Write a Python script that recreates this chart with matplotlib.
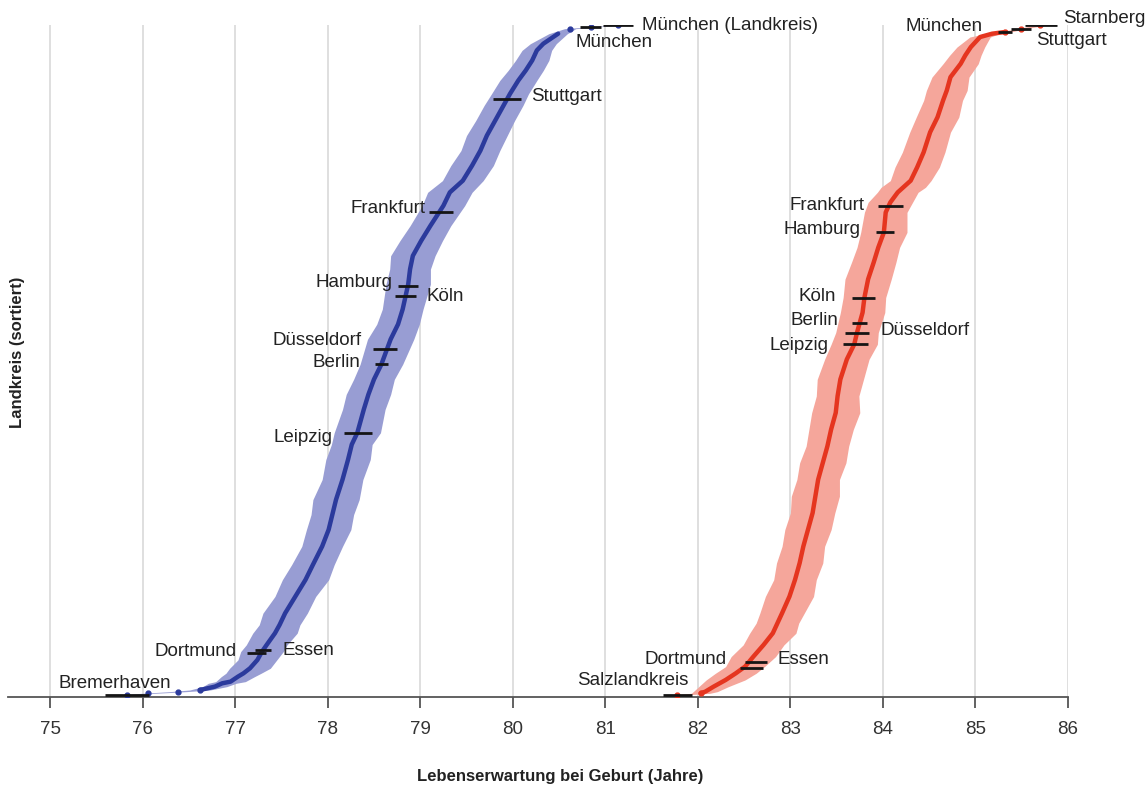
import numpy as np
import matplotlib.pyplot as plt

plt.rcParams['font.family'] = ['Liberation Sans', 'DejaVu Sans']

# Männer: Rang (sortiert) und Lebenserwartung mit Unsicherheit
men_rank = [1, 2, 3, 4, 6, 8, 9, 12, 14, 17, 22, 27, 31, 38, 43, 50, 60, 70, 79, 90,
            100, 109, 118, 130, 142, 151, 158, 172, 181, 190, 199, 214, 223, 232, 247,
            256, 264, 273, 282, 294, 302, 309, 318, 327, 336, 345, 354, 361, 369, 375,
            381, 387, 391, 394, 397, 400, 401, 402]
men_le = [75.83, 76.06, 76.38, 76.62, 76.78, 76.86, 76.95, 77.03, 77.09, 77.16, 77.24,
          77.29, 77.34, 77.43, 77.48, 77.54, 77.65, 77.76, 77.84, 77.94, 78.01, 78.05,
          78.09, 78.16, 78.22, 78.26, 78.32, 78.39, 78.44, 78.50, 78.58, 78.68, 78.76,
          78.81, 78.87, 78.89, 78.92, 79.01, 79.11, 79.25, 79.32, 79.46, 79.56, 79.65,
          79.72, 79.81, 79.90, 79.97, 80.06, 80.14, 80.21, 80.26, 80.33, 80.41, 80.49,
          80.62, 80.84, 81.14]
men_err = [0.08, 0.07, 0.09, 0.11, 0.13, 0.15, 0.16, 0.18, 0.19,
           0.22, 0.21, 0.23, 0.22, 0.24, 0.22, 0.24, 0.22, 0.25, 0.23, 0.22, 0.24, 0.23,
           0.25, 0.22, 0.24, 0.22, 0.25, 0.23, 0.24, 0.22, 0.23, 0.25, 0.23, 0.22, 0.24,
           0.22, 0.24, 0.23, 0.22, 0.23, 0.24, 0.22, 0.23, 0.21, 0.22, 0.21, 0.21, 0.20,
           0.20, 0.19, 0.18, 0.16, 0.14, 0.12, 0.10,
           0.06, 0.05, 0.05]

# Frauen
women_rank = [1, 2, 3, 6, 10, 14, 18, 24, 31, 38, 44, 50, 60, 70, 80, 90, 100, 110, 120,
              130, 140, 150, 160, 170, 180, 190, 202, 211, 218, 230, 239, 250, 260, 269,
              278, 290, 296, 302, 305, 309, 317, 326, 338, 347, 357, 363, 371, 379, 384,
              389, 392, 395, 397, 398, 400, 402]
women_le = [81.78, 82.03, 82.08, 82.17, 82.30, 82.41, 82.51, 82.60, 82.71, 82.81, 82.86,
            82.91, 82.99, 83.05, 83.10, 83.14, 83.19, 83.24, 83.27, 83.30, 83.35, 83.40,
            83.44, 83.49, 83.51, 83.54, 83.61, 83.69, 83.72, 83.78, 83.80, 83.84, 83.90,
            83.95, 84.01, 84.03, 84.08, 84.16, 84.22, 84.30, 84.37, 84.44, 84.51, 84.59,
            84.65, 84.69, 84.73, 84.84, 84.89, 84.95, 85.00, 85.05, 85.18, 85.32, 85.49,
            85.70]
women_err = [0.07, 0.10, 0.13, 0.16,
             0.21, 0.22, 0.21, 0.24, 0.22, 0.25, 0.23, 0.24, 0.26, 0.23, 0.25, 0.23, 0.25,
             0.24, 0.26, 0.23, 0.25, 0.23, 0.24, 0.26, 0.23, 0.25, 0.24, 0.25, 0.23, 0.24,
             0.23, 0.25, 0.24, 0.23, 0.25, 0.23, 0.24, 0.22, 0.24, 0.22, 0.24, 0.23, 0.22,
             0.23, 0.21, 0.22, 0.20, 0.19, 0.17, 0.15, 0.13, 0.11,
             0.08, 0.06, 0.05, 0.05]

# markierte Kreise
men_city = ['München (Landkreis)', 'München', 'Stuttgart', 'Frankfurt', 'Hamburg', 'Köln',
            'Düsseldorf', 'Berlin', 'Leipzig', 'Dortmund', 'Essen', 'Bremerhaven']
men_city_rank = [402, 401, 358, 290, 246, 240, 208, 199, 158, 26, 28, 1]
men_city_le = [81.14, 80.84, 79.94, 79.22, 78.87, 78.84, 78.62, 78.58, 78.33, 77.23, 77.30, 75.83]
men_city_err = [0.16, 0.11, 0.15, 0.13, 0.11, 0.11, 0.13, 0.07, 0.15, 0.10, 0.09, 0.24]

women_city = ['Starnberg', 'Stuttgart', 'München', 'Frankfurt', 'Hamburg', 'Köln', 'Berlin',
              'Düsseldorf', 'Leipzig', 'Dortmund', 'Essen', 'Salzlandkreis']
women_city_rank = [402, 400, 398, 294, 278, 239, 224, 218, 211, 17, 21, 1]
women_city_le = [85.71, 85.49, 85.32, 84.08, 84.02, 83.79, 83.75, 83.72, 83.70, 82.58, 82.63, 81.78]
women_city_err = [0.17, 0.11, 0.08, 0.135, 0.10, 0.125, 0.08, 0.125, 0.135, 0.125, 0.12, 0.16]

# Beschriftung: (Ausrichtung, dx, dy) in Pixeln
men_lab = [('left', 9, 0), ('left', -25, -15), ('left', 10, 2), ('right', -3, 4),
           ('right', -6, 3), ('left', 11, -1), ('right', -11, 9), ('right', -15, 2),
           ('right', -12, -5), ('right', -11, 2), ('left', 11, -1), ('center', -12, 11)]
women_lab = [('left', 6, 7), ('left', 5, -12), ('right', -15, 6), ('right', -13, 0),
             ('right', -15, 3), ('right', -16, 1), ('right', -14, 2), ('left', 12, 2),
             ('right', -14, -1), ('right', -13, 9), ('left', 10, 2), ('right', 26, 14)]


def draw_series(ax, rank, le, err, line_color, band_color, lo, hi):
    rank = np.array(rank)
    le = np.array(le)
    err = np.array(err)
    ax.fill_betweenx(rank, le - err, le + err, color=band_color, lw=0, zorder=2)
    core = (rank >= lo) & (rank <= hi)
    ax.plot(le[core], rank[core], color=line_color, lw=3.2, zorder=3,
            solid_capstyle='round', solid_joinstyle='round')
    tail = ~core | (rank == lo) | (rank == hi)
    ax.plot(le[tail], rank[tail], 'o', color=line_color, ms=3.5, zorder=3)


def draw_cities(ax, names, rank, le, err, layout):
    ax.errorbar(le, rank, xerr=err, fmt='none', ecolor='#151515', elinewidth=2,
                capsize=0, zorder=4)
    for n, r, v, e, (ha, dx, dy) in zip(names, rank, le, err, layout):
        x = v + e if ha == 'left' else (v - e if ha == 'right' else v)
        ax.annotate(n, (x, r), xytext=(dx, dy), textcoords='offset pixels',
                    ha=ha, va='center', fontsize=13.5, color='#222222', zorder=5)


fig = plt.figure(figsize=(11.48, 7.87), dpi=100)
ax = fig.add_axes([8 / 1148, 90 / 787, 1060 / 1148, 672 / 787])

draw_series(ax, men_rank, men_le, men_err, '#2b3a9c', '#989dd3', 4, 399)
draw_series(ax, women_rank, women_le, women_err, '#e5351f', '#f5a69b', 2, 398)
draw_cities(ax, men_city, men_city_rank, men_city_le, men_city_err, men_lab)
draw_cities(ax, women_city, women_city_rank, women_city_le, women_city_err, women_lab)

ax.set_xlim(74.545, 86.0)
ax.set_ylim(-0.2, 402.2)
ax.set_xticks(range(75, 87))
ax.set_yticks([])
ax.grid(axis='x', color='#dcdcdc', lw=1.3)
ax.set_axisbelow(True)
for s in ['top', 'right', 'left']:
    ax.spines[s].set_visible(False)
ax.spines['bottom'].set_color('#555555')
ax.spines['bottom'].set_linewidth(1.3)
ax.tick_params(axis='x', length=8, width=1.3, color='#555555', pad=9,
               labelsize=13.5, labelcolor='#333333')

fig.text(18 / 1148, 1 - 352 / 787, 'Landkreis (sortiert)', rotation=90, ha='center',
         va='center', fontweight='bold', fontsize=12, color='#222222')
fig.text(560 / 1148, 1 - 776 / 787, 'Lebenserwartung bei Geburt (Jahre)', ha='center',
         va='center', fontweight='bold', fontsize=12, color='#222222')

fig.savefig('out.png', dpi=100)
